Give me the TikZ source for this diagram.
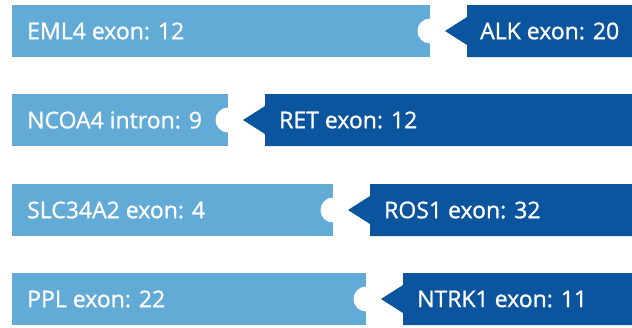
\documentclass[tikz,border=0pt]{standalone}
\usepackage{fontspec}
\setmainfont{Open Sans}
\newfontfamily\labelfont[FakeBold=1]{Open Sans}
\definecolor{partnerblue}{HTML}{63ABD7}
\definecolor{kinaseblue}{HTML}{0B559F}
\tikzset{
  partner/.style={fill=partnerblue},
  kinase/.style={fill=kinaseblue},
  socket/.style={fill=white},
  genelabel/.style={text=white, anchor=west, inner sep=0pt,
    font=\labelfont\fontsize{23}{27}\selectfont}
}
\begin{document}
\begin{tikzpicture}[x=1pt,y=-1pt]
    \useasboundingbox (0,0) rectangle (632,327);

    % EML4 -- ALK
    \fill[partner] (12,5) rectangle (430,57);
    \fill[socket] (430,31) circle (12.5);
    \fill[kinase] (445,31) -- (467,17) -- (467,5) -- (632,5) -- (632,57) -- (467,57) -- (467,45) -- cycle;
    \node[genelabel] (eml4) at (27,31) {EML4 exon: 12};
    \node[genelabel] (alk) at (480,31) {ALK exon: 20};

    % NCOA4 -- RET
    \fill[partner] (12,94) rectangle (228,146);
    \fill[socket] (228,120) circle (12.5);
    \fill[kinase] (243,120) -- (265,106) -- (265,94) -- (632,94) -- (632,146) -- (265,146) -- (265,134) -- cycle;
    \node[genelabel] (ncoa4) at (27,120) {NCOA4 intron: 9};
    \node[genelabel] (ret) at (279,120) {RET exon: 12};

    % SLC34A2 -- ROS1
    \fill[partner] (12,184) rectangle (333,236);
    \fill[socket] (333,210) circle (12.5);
    \fill[kinase] (348,210) -- (370,196) -- (370,184) -- (632,184) -- (632,236) -- (370,236) -- (370,224) -- cycle;
    \node[genelabel] (slc34a2) at (27,210) {SLC34A2 exon: 4};
    \node[genelabel] (ros1) at (384,210) {ROS1 exon: 32};

    % PPL -- NTRK1
    \fill[partner] (12,273) rectangle (366,325);
    \fill[socket] (366,299) circle (12.5);
    \fill[kinase] (381,299) -- (403,285) -- (403,273) -- (632,273) -- (632,325) -- (403,325) -- (403,313) -- cycle;
    \node[genelabel] (ppl) at (27,299) {PPL exon: 22};
    \node[genelabel] (ntrk1) at (417,299) {NTRK1 exon: 11};
\end{tikzpicture}
\end{document}
